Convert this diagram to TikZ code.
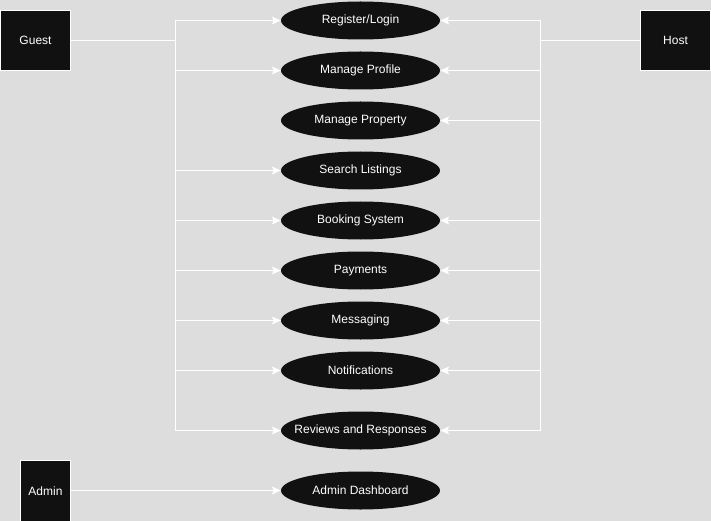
\documentclass[tikz,border=0pt]{standalone}
\usepackage{fontspec}
\setmainfont{Liberation Sans}
\usetikzlibrary{shapes.geometric,arrows.meta}
\definecolor{bg}{HTML}{DDDDDD}
\definecolor{ink}{HTML}{111111}
\begin{document}
\begin{tikzpicture}[x=1pt,y=-1pt,
  actor/.style={draw=white,line width=1pt,fill=ink,text=white,inner sep=0pt,font=\fontsize{12}{14}\selectfont},
  usecase/.style={ellipse,fill=ink,draw=none,text=white,minimum width=159pt,minimum height=38pt,inner sep=0pt,font=\fontsize{12}{14}\selectfont},
  wire/.style={draw=white,line width=1pt},
  arr/.style={wire,-{Stealth[length=9pt,width=8pt,inset=2pt]}}]
\useasboundingbox[fill=bg] (0,0) rectangle (711,521);
% actors
\node[actor,minimum width=70pt,minimum height=60pt] (guest) at (35.5,40.5) {Guest};
\node[actor,minimum width=70pt,minimum height=60pt] (host) at (675.5,40.5) {Host};
\node[actor,minimum width=50pt,minimum height=66pt] (admin) at (45.5,493.5) {};
\node[text=white,font=\fontsize{12}{14}\selectfont] (admintxt) at (45.5,491) {Admin};
% use cases
\node[usecase] (reg) at (360.5,20.5) {Register/Login};
\node[usecase] (prof) at (360.5,70.5) {Manage Profile};
\node[usecase] (prop) at (360.5,120.5) {Manage Property};
\node[usecase] (search) at (360.5,170.5) {Search Listings};
\node[usecase] (book) at (360.5,220.5) {Booking System};
\node[usecase] (pay) at (360.5,270.5) {Payments};
\node[usecase] (msg) at (360.5,320.5) {Messaging};
\node[usecase] (notif) at (360.5,370.5) {Notifications};
\node[usecase] (rev) at (360.5,430.5) {\makebox[0pt]{Reviews and Responses}};
\node[usecase] (dash) at (360.5,490.5) {Admin Dashboard};
% bus coordinates
\coordinate (gx) at (175.5,0);
\coordinate (hx) at (540.5,0);
% guest connectors
\draw[wire] (guest.east) -- (guest.east -| gx);
\draw[wire] (gx |- reg) -- (gx |- rev);
\foreach \t in {reg,prof,search,book,pay,msg,notif,rev}
  \draw[arr] (gx |- \t) -- (\t.west);
% host connectors
\draw[wire] (host.west) -- (host.west -| hx);
\draw[wire] (hx |- reg) -- (hx |- rev);
\foreach \t in {reg,prof,prop,book,pay,msg,notif,rev}
  \draw[arr] (hx |- \t) -- (\t.east);
% admin connector
\draw[arr] (admin.east |- dash) -- (dash.west);
\end{tikzpicture}
\end{document}
